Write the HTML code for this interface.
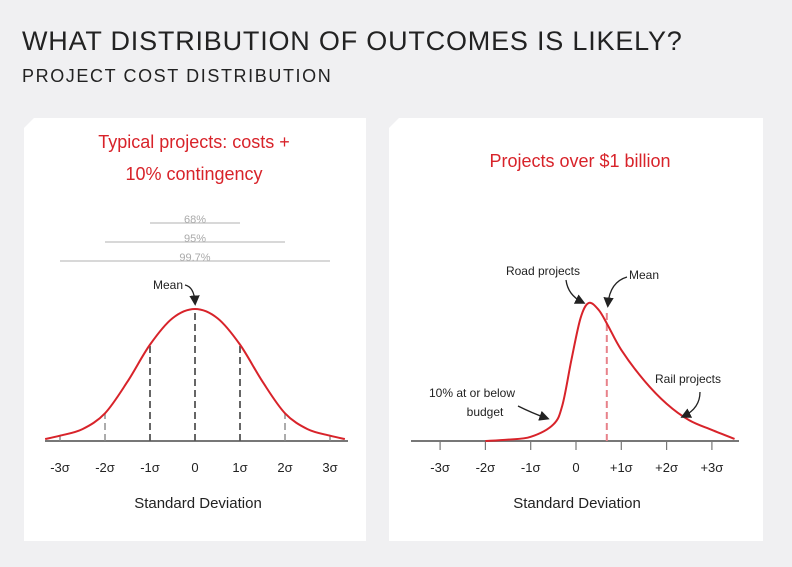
<!DOCTYPE html>
<html><head><meta charset="utf-8"><style>
html,body{margin:0;padding:0;background:#f0f0f2;}
svg{display:block;font-family:"Liberation Sans",sans-serif;}
</style></head><body>
<svg width="792" height="567" viewBox="0 0 792 567">
<rect x="0" y="0" width="792" height="567" fill="#f0f0f2"/>
<text x="22" y="50" font-size="27" fill="#222" letter-spacing="0.8">WHAT DISTRIBUTION OF OUTCOMES IS LIKELY?</text>
<text x="22" y="82" font-size="18" fill="#222" letter-spacing="1.6">PROJECT COST DISTRIBUTION</text>
<polygon points="34,118 366,118 366,541 24,541 24,128" fill="#fff"/>
<polygon points="399,118 763,118 763,541 389,541 389,128" fill="#fff"/>
<text x="194" y="148" font-size="18" fill="#d8232a" text-anchor="middle">Typical projects: costs +</text>
<text x="194" y="180" font-size="18" fill="#d8232a" text-anchor="middle">10% contingency</text>
<text x="580" y="167" font-size="18" fill="#d8232a" text-anchor="middle">Projects over $1 billion</text>
<g id="left"></g>
<g id="right"></g>
<defs><marker id="ah" markerWidth="8" markerHeight="8" refX="5" refY="4" orient="auto"><path d="M0,0 L8,4 L0,8 Z" fill="#222"/></marker></defs>
<text x="168" y="289" font-size="12" fill="#222" text-anchor="middle">Mean</text>
<path d="M185,285 Q194,287 195,302" fill="none" stroke="#222" stroke-width="1.3" marker-end="url(#ah)"/>
<text x="543" y="275" font-size="12" fill="#222" text-anchor="middle">Road projects</text>
<path d="M566,280 Q568,295 582,302" fill="none" stroke="#222" stroke-width="1.3" marker-end="url(#ah)"/>
<text x="644" y="279" font-size="12" fill="#222" text-anchor="middle">Mean</text>
<path d="M627,277 Q610,282 608,304" fill="none" stroke="#222" stroke-width="1.3" marker-end="url(#ah)"/>
<text x="688" y="383" font-size="12" fill="#222" text-anchor="middle">Rail projects</text>
<path d="M700,392 Q700,408 684,416" fill="none" stroke="#222" stroke-width="1.3" marker-end="url(#ah)"/>
<text x="472" y="397" font-size="12" fill="#222" text-anchor="middle">10% at or below</text>
<text x="485" y="416" font-size="12" fill="#222" text-anchor="middle">budget</text>
<path d="M518,406 Q532,413 546,418" fill="none" stroke="#222" stroke-width="1.3" marker-end="url(#ah)"/>
</svg>
<script>
// Left chart data (normal distribution, relative density)
const leftSigma = [-3.33,-3,-2.5,-2,-1.5,-1,-0.5,0,0.5,1,1.5,2,2.5,3,3.33];
const leftDensity = [0.015,0.04,0.09,0.21,0.45,0.73,0.93,1,0.93,0.73,0.45,0.21,0.09,0.04,0.015];
const leftDashSigma = [-3,-2,-1,0,1,2,3];
const leftTickLabels = ['-3σ','-2σ','-1σ','0','1σ','2σ','3σ'];
const rangeLabels = ['68%','95%','99.7%'];
const rangeWidths = [1,2,3];
// Right chart data (skewed distribution, relative density)
const rightSigma = [-2,-1.5,-1,-0.5,-0.3,-0.1,0.1,0.28,0.5,0.7,1,1.5,2,2.5,3,3.5];
const rightDensity = [0,0.01,0.03,0.12,0.26,0.59,0.89,1,0.95,0.84,0.66,0.44,0.27,0.15,0.08,0.015];
const rightTicks = [-3,-2,-1,0,1,2,3];
const rightTickLabels = ['-3σ','-2σ','-1σ','0','+1σ','+2σ','+3σ'];
const rightMean = 0.68;

const NS='http://www.w3.org/2000/svg';
function mk(parent,tag,attrs,text){const e=document.createElementNS(NS,tag);for(const k in attrs)e.setAttribute(k,attrs[k]);if(text!==undefined)e.textContent=text;parent.appendChild(e);return e;}
function smooth(pts){let d='M'+pts[0][0]+','+pts[0][1];for(let i=0;i<pts.length-1;i++){const p0=pts[i-1]||pts[i],p1=pts[i],p2=pts[i+1],p3=pts[i+2]||p2;const c1x=p1[0]+(p2[0]-p0[0])/6,c1y=p1[1]+(p2[1]-p0[1])/6,c2x=p2[0]-(p3[0]-p1[0])/6,c2y=p2[1]-(p3[1]-p1[1])/6;d+=` C${c1x},${c1y} ${c2x},${c2y} ${p2[0]},${p2[1]}`;}return d;}
function interp(xs,ys,x){for(let i=0;i<xs.length-1;i++){if(x>=xs[i]&&x<=xs[i+1]){const t=(x-xs[i])/(xs[i+1]-xs[i]);return ys[i]+t*(ys[i+1]-ys[i]);}}return 0;}

// LEFT
(function(){
const g=document.getElementById('left');
const x=s=>195+s*45, base=441, H=132, y=v=>base-v*H;
mk(g,'line',{x1:45,y1:base,x2:348,y2:base,stroke:'#777','stroke-width':2,});
leftDashSigma.forEach((s,i)=>{
  const l=mk(g,'line',{x1:x(s),y1:base,x2:x(s),y2:y(interp(leftSigma,leftDensity,s)),stroke:Math.abs(s)<=1?'#555':'#888','stroke-width':Math.abs(s)<=1?1.8:1.4,'stroke-dasharray':'7,4'});
  
  
  const t=mk(g,'text',{x:x(s),y:472,'font-size':13,fill:'#222','text-anchor':'middle'},leftTickLabels[i]);
  
  
});
const p=mk(g,'path',{d:smooth(leftSigma.map((s,i)=>[x(s),y(leftDensity[i])])),fill:'none',stroke:'#d8232a','stroke-width':2});


rangeLabels.forEach((lab,i)=>{
  const yy=223+i*19, w=rangeWidths[i];
  const l=mk(g,'line',{x1:x(-w),y1:yy,x2:x(w),y2:yy,stroke:'#ccc','stroke-width':1.5});
  
  
  const t=mk(g,'text',{x:195,y:yy,'font-size':11,fill:'#aaa','text-anchor':'middle'},lab);
  
  
});
const at=mk(g,'text',{x:198,y:508,'font-size':15,fill:'#222','text-anchor':'middle'},'Standard Deviation');


})();

// RIGHT
(function(){
const g=document.getElementById('right');
const x=s=>576+s*45.3, base=441, H=138, y=v=>base-v*H;
mk(g,'line',{x1:411,y1:base,x2:739,y2:base,stroke:'#777','stroke-width':2,});
rightTicks.forEach((s,i)=>{
  const l=mk(g,'line',{x1:x(s),y1:base,x2:x(s),y2:base+9,stroke:'#777','stroke-width':1.2});
  
  
  const t=mk(g,'text',{x:x(s),y:472,'font-size':13,fill:'#222','text-anchor':'middle'},rightTickLabels[i]);
  
  
});
const m=mk(g,'line',{x1:x(rightMean),y1:base,x2:x(rightMean),y2:310,stroke:'#e8828a','stroke-width':2,'stroke-dasharray':'7,4'});


const p=mk(g,'path',{d:smooth(rightSigma.map((s,i)=>[x(s),y(rightDensity[i])])),fill:'none',stroke:'#d8232a','stroke-width':2});


const at=mk(g,'text',{x:577,y:508,'font-size':15,fill:'#222','text-anchor':'middle'},'Standard Deviation');


})();
</script>
</body></html>
